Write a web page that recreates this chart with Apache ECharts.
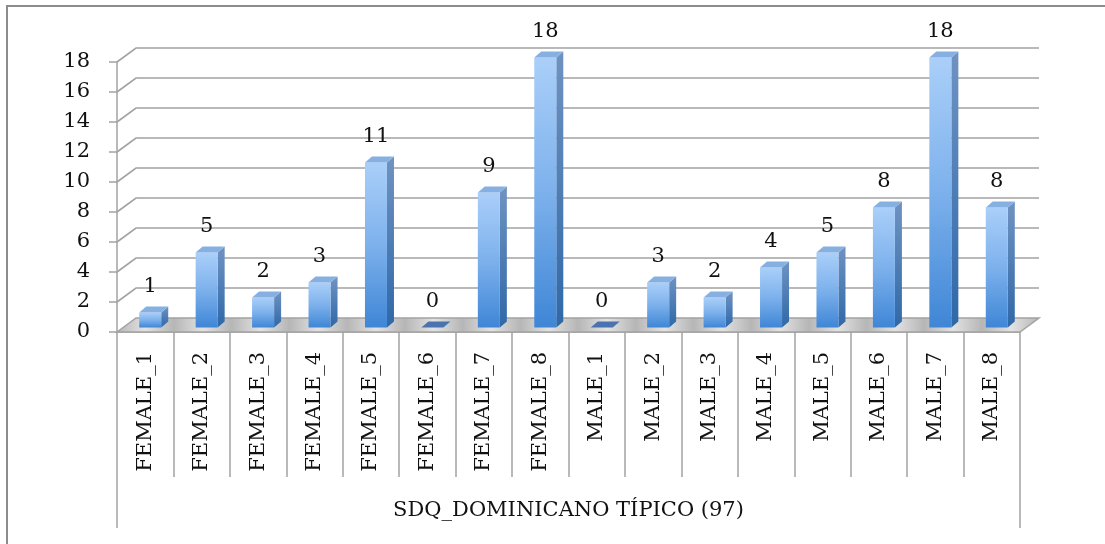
<!DOCTYPE html>
<html>
<head>
<meta charset="utf-8">
<style>
  html, body { margin: 0; padding: 0; background: #ffffff; }
  #chart { width: 1105px; height: 544px; }
</style>
<script src="https://cdn.jsdelivr.net/npm/echarts@6/dist/echarts.min.js"></script>
</head>
<body>
<div id="chart"></div>
<script>
// Category names, counts, axis ticks and the group caption
const categories = [
  'FEMALE_1', 'FEMALE_2', 'FEMALE_3', 'FEMALE_4', 'FEMALE_5', 'FEMALE_6', 'FEMALE_7', 'FEMALE_8',
  'MALE_1', 'MALE_2', 'MALE_3', 'MALE_4', 'MALE_5', 'MALE_6', 'MALE_7', 'MALE_8'
];
const counts = [1, 5, 2, 3, 11, 0, 9, 18, 0, 3, 2, 4, 5, 8, 18, 8];
const yTicks = [0, 2, 4, 6, 8, 10, 12, 14, 16, 18];
const groupLabel = ['SDQ_DOMINICANO TÍPICO (97)'];

const FONT = 'DejaVu Serif';
const FONT_SIZE = 21;
const GRID_COLOR = '#a2a2a2';

// Depth of the 3D box (back wall offset) and of each bar
const WALL_DX = 19, WALL_DY = -14;
const BAR_OFF_X = 5, BAR_OFF_Y = -4.5;
const BAR_DX = 7, BAR_DY = -6;
const BAR_RATIO = 0.39;

const chart = echarts.init(document.getElementById('chart'), null, { renderer: 'canvas' });

// Floor fill with light streaks
const floorStops = [];
for (let k = 0; k <= 32; k++) {
  floorStops.push({ offset: k / 32, color: k % 2 === 0 ? '#b6b6b6' : '#e2e2e2' });
}

function renderWall(params, api) {
  const v = api.value(1);
  const n = categories.length;
  const bw = api.size([1, 0])[0];
  const p0 = api.coord([0, v]);
  const p1 = api.coord([n - 1, v]);
  const x0 = p0[0] - bw / 2;
  const x1 = p1[0] + bw / 2;
  const y = p0[1];
  const children = [];
  if (v === 0) {
    children.push({
      type: 'polygon',
      shape: { points: [[x0, y], [x0 + WALL_DX, y + WALL_DY], [x1 + WALL_DX, y + WALL_DY], [x1, y]] },
      style: {
        fill: new echarts.graphic.LinearGradient(0, 0, 1, 0.3, floorStops),
        stroke: GRID_COLOR, lineWidth: 1.5
      }
    });
  } else {
    children.push({
      type: 'polyline',
      shape: { points: [[x0, y], [x0 + WALL_DX, y + WALL_DY], [x1 + WALL_DX, y + WALL_DY]] },
      style: { stroke: GRID_COLOR, lineWidth: 1.6, fill: null }
    });
  }
  return { type: 'group', children: children };
}

function renderBar(params, api) {
  const i = api.value(0);
  const v = api.value(1);
  const bw = api.size([1, 0])[0];
  const base = api.coord([i, 0]);
  const top = api.coord([i, v]);
  const w = bw * BAR_RATIO;
  const cx = base[0] + BAR_OFF_X;
  const left = cx - w / 2;
  const right = cx + w / 2;
  const fb = base[1] + BAR_OFF_Y;
  const ft = top[1] + BAR_OFF_Y;
  const children = [];
  if (v > 0) {
    children.push({
      type: 'polygon',
      shape: { points: [[right, ft], [right + BAR_DX, ft + BAR_DY], [right + BAR_DX, fb + BAR_DY], [right, fb]] },
      style: {
        fill: new echarts.graphic.LinearGradient(0, 0, 0, 1, [
          { offset: 0, color: '#6f93c2' }, { offset: 1, color: '#2f68a8' }
        ])
      }
    });
    children.push({
      type: 'rect',
      shape: { x: left, y: ft, width: w, height: fb - ft },
      style: {
        fill: new echarts.graphic.LinearGradient(0, 0, 0, 1, [
          { offset: 0, color: '#aacff9' }, { offset: 0.5, color: '#7db1ec' }, { offset: 1, color: '#3f86d6' }
        ])
      }
    });
    children.push({
      type: 'polygon',
      shape: { points: [[left, ft], [left + BAR_DX, ft + BAR_DY], [right + BAR_DX, ft + BAR_DY], [right, ft]] },
      style: { fill: '#86afe2' }
    });
  } else {
    children.push({
      type: 'polygon',
      shape: { points: [[left, fb], [left + BAR_DX, fb + BAR_DY], [right + BAR_DX, fb + BAR_DY], [right, fb]] },
      style: { fill: '#4a74b0' }
    });
  }
  children.push({
    type: 'text',
    style: {
      x: cx, y: ft - 15, text: String(v),
      align: 'center', verticalAlign: 'bottom',
      font: FONT_SIZE + 'px "' + FONT + '"', fill: '#111111'
    }
  });
  return { type: 'group', children: children };
}

chart.setOption({
  animation: false,
  backgroundColor: '#ffffff',
  graphic: [{
    type: 'rect',
    shape: { x: 7, y: 6, width: 1200, height: 600 },
    style: { fill: null, stroke: '#8c8c8c', lineWidth: 2 },
    silent: true
  }],
  grid: { left: 117, right: 85, top: 62, bottom: 212, containLabel: false },
  xAxis: [{
    type: 'category',
    data: categories,
    position: 'bottom',
    boundaryGap: true,
    axisLine: { show: true, lineStyle: { color: GRID_COLOR, width: 1.5 } },
    axisTick: { show: true, interval: 0, length: 145, lineStyle: { color: GRID_COLOR, width: 1.5 } },
    axisLabel: {
      interval: 0, rotate: 90, margin: 20,
      fontFamily: FONT, fontSize: FONT_SIZE, color: '#111111'
    },
    splitLine: { show: false }
  }, {
    type: 'category',
    data: groupLabel,
    position: 'bottom',
    boundaryGap: true,
    axisLine: { show: false },
    axisTick: { show: true, interval: 0, length: 196, lineStyle: { color: GRID_COLOR, width: 1.5 } },
    axisLabel: {
      interval: 0, margin: 168,
      fontFamily: FONT, fontSize: FONT_SIZE, color: '#111111'
    },
    splitLine: { show: false }
  }],
  yAxis: {
    type: 'value',
    min: 0, max: 18, interval: 2,
    axisLine: { show: true, lineStyle: { color: GRID_COLOR, width: 1.5 } },
    axisTick: { show: true, inside: false, length: 8, lineStyle: { color: GRID_COLOR, width: 1.5 } },
    axisLabel: { margin: 27, fontFamily: FONT, fontSize: FONT_SIZE, color: '#111111' },
    splitLine: { show: false }
  },
  series: [{
    name: 'wall',
    type: 'custom',
    xAxisIndex: 0, yAxisIndex: 0,
    z: 1,
    silent: true,
    renderItem: renderWall,
    encode: { x: 0, y: 1 },
    data: yTicks.map(function (v) { return [0, v]; })
  }, {
    name: 'count',
    type: 'custom',
    xAxisIndex: 0, yAxisIndex: 0,
    z: 3,
    renderItem: renderBar,
    encode: { x: 0, y: 1 },
    data: counts.map(function (v, i) { return [i, v]; })
  }]
});
</script>
</body>
</html>
